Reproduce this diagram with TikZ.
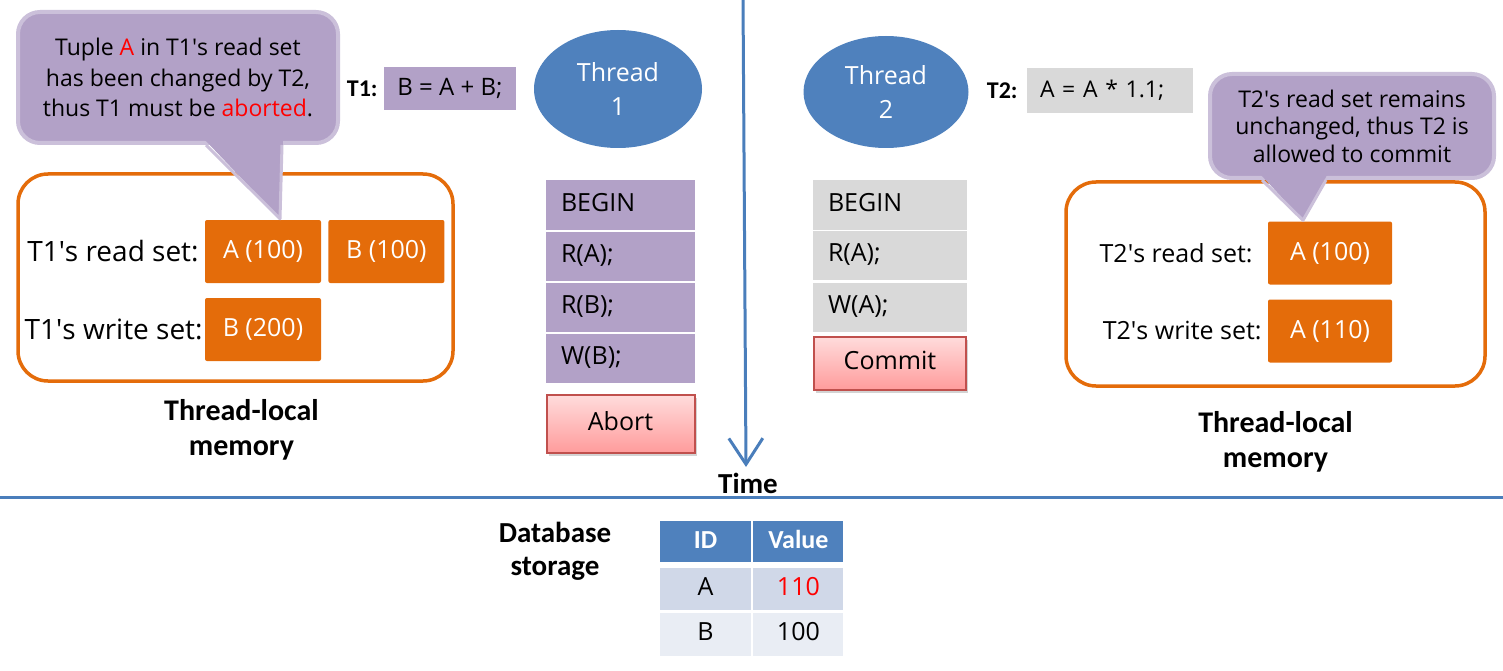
\documentclass[tikz,border=0pt]{standalone}
\usepackage{fontspec}
\setmainfont{Open Sans}
\newfontfamily\labelfont{Carlito}
\usetikzlibrary{positioning,shapes.geometric,arrows.meta,shadows}
\definecolor{lilac}{HTML}{B2A1C7}
\definecolor{lilacedge}{HTML}{CBC0DA}
\definecolor{memorange}{HTML}{E46C0A}
\definecolor{threadblue}{HTML}{4F81BD}
\definecolor{linkblue}{HTML}{4A7EBB}
\definecolor{opgray}{HTML}{D9D9D9}
\definecolor{rowa}{HTML}{D0D8E8}
\definecolor{rowb}{HTML}{E9EDF4}
\definecolor{alertred}{HTML}{C0504D}
\definecolor{pinktop}{HTML}{FFDCDC}
\definecolor{pinkbottom}{HTML}{FF9C9C}
\tikzset{
    note-box/.style = {fill=lilac, draw=lilacedge, line width=4pt, rounded corners=22pt, align=center, inner sep=0pt},
    note-edge/.style = {draw=lilacedge, line width=3pt, line join=round},
    thread-node/.style = {ellipse, fill=threadblue, text=white, inner sep=0pt, align=center, font=\fontsize{25}{34}\selectfont},
    op-box/.style = {inner sep=0pt, font=\fontsize{24}{28}\selectfont},
    tag/.style = {inner sep=0pt, font=\labelfont\bfseries\fontsize{24}{28}\selectfont},
    step-box/.style = {inner xsep=15pt, inner ysep=0pt, outer sep=0pt, minimum height=49pt, align=left, text height=18pt, text depth=5pt, font=\fontsize{25}{30}\selectfont},
    t1-step/.style = {step-box, fill=lilac, text width=119pt},
    t2-step/.style = {step-box, fill=opgray, text width=124pt},
    end-box/.style = {draw=alertred, line width=2pt, top color=pinktop, bottom color=pinkbottom, inner sep=0pt, text height=18pt, text depth=5pt, font=\fontsize{25}{30}\selectfont, drop shadow={shadow xshift=2pt, shadow yshift=-3pt, opacity=0.35}},
    memory-box/.style = {draw=memorange, line width=3.5pt, rounded corners=30pt, inner sep=0pt},
    set-box/.style = {fill=memorange, text=white, minimum width=116pt, minimum height=63pt, rounded corners=2pt, inner sep=0pt, font=\fontsize{25}{30}\selectfont},
    set-label/.style = {inner sep=0pt, font=\fontsize{25}{30}\selectfont},
    bold-label/.style = {inner sep=0pt, align=center, font=\labelfont\bfseries\fontsize{30}{35}\selectfont},
    time-arrow/.style = {draw=linkblue, line width=3pt, -{Straight Barb[length=26pt,width=34pt,line width=3pt]}},
    split-line/.style = {draw=linkblue, line width=3pt},
    head-cell/.style = {fill=threadblue, text=white, minimum height=41pt, inner sep=0pt, text height=17pt, text depth=4pt, font=\labelfont\bfseries\fontsize{26}{30}\selectfont},
    cell/.style = {minimum height=42pt, inner sep=0pt, text height=18pt, text depth=5pt, font=\fontsize{25}{30}\selectfont},
}

\begin{document}
\begin{tikzpicture}[x=1pt,y=-1pt]
\useasboundingbox (0,0) rectangle (1503,671);

\node[memory-box, minimum width=435pt, minimum height=207pt] (mem1) at (235.5,277.5) {};
\node[memory-box, minimum width=419pt, minimum height=204pt] (mem2) at (1275.5,284) {};

\node[set-box] (t1-read-a) at (263,251.5) {A (100)};
\node[set-box, right=7pt of t1-read-a] (t1-read-b) {B (100)};
\node[set-box] (t1-write-b) at (263,329.5) {B (200)};
\node[set-label, font=\fontsize{28}{32}\selectfont, left=6pt of t1-read-a] (t1-read-label) {T1\textquotesingle s read set:};
\node[set-label, font=\fontsize{28}{32}\selectfont, left=2pt of t1-write-b] (t1-write-label) {T1\textquotesingle s write set:};
\node[set-box, minimum width=124pt] (t2-read-a) at (1330,253) {A (100)};
\node[set-box, minimum width=124pt] (t2-write-a) at (1330,331) {A (110)};
\node[set-label, left=15pt of t2-read-a] (t2-read-label) {T2\textquotesingle s read set:};
\node[set-label, left=6pt of t2-write-a] (t2-write-label) {T2\textquotesingle s write set:};

\node[bold-label, below=16pt of mem1, xshift=6pt] (mem1-title) {Thread-local\\memory};
\node[bold-label, below=23pt of mem2] (mem2-title) {Thread-local\\memory};

\node[note-box, minimum width=320pt, minimum height=131pt, font=\fontsize{23}{30.5}\selectfont] (note1) at (178,77.5)
    {Tuple \textcolor{red}{A} in T1\textquotesingle s read set\\has been changed by T2,\\thus T1 must be \textcolor{red}{aborted}.};
\coordinate (note1-tip) at ([xshift=17pt,yshift=1pt]t1-read-a.north);
\fill[lilac] ([xshift=27pt,yshift=5pt]note1.south) -- (note1-tip) -- ([xshift=105pt,yshift=5pt]note1.south) -- cycle;
\draw[note-edge] ([xshift=28pt]note1.south) -- (note1-tip) -- ([xshift=104pt]note1.south);

\node[note-box, minimum width=284pt, minimum height=104pt, font=\fontsize{23}{27.5}\selectfont] (note2) at (1352,126)
    {T2\textquotesingle s read set remains\\unchanged, thus T2 is\\allowed to commit};
\coordinate (note2-tip) at ([xshift=-27pt,yshift=1pt]t2-read-a.north);
\fill[lilac] ([xshift=-91pt,yshift=5pt]note2.south) -- (note2-tip) -- ([xshift=-25pt,yshift=5pt]note2.south) -- cycle;
\draw[note-edge] ([xshift=-90pt]note2.south) -- (note2-tip) -- ([xshift=-26pt]note2.south);

\node[op-box, fill=lilac, minimum width=132pt, minimum height=43pt] (op1) at (450,88.5) {B = A + B;};
\node[tag, left=6pt of op1] (t1-tag) {T1:};
\node[op-box, fill=opgray, text width=140pt, inner xsep=13pt, align=left, minimum height=45pt, font=\fontsize{23}{27}\selectfont] (op2) at (1110,90.5) {A = A * 1.1;};
\node[tag, left=9pt of op2] (t2-tag) {T2:};

\node[thread-node, minimum width=168pt, minimum height=118pt] (thread1) at (618,89) {Thread\\1};
\node[thread-node, minimum width=165pt, minimum height=112pt] (thread2) at (886,92) {Thread\\2};

\node[t1-step] (t1-begin) at (620.5,205) {BEGIN};
\node[t1-step, below=2pt of t1-begin] (t1-ra) {R(A);};
\node[t1-step, below=2pt of t1-ra] (t1-rb) {R(B);};
\node[t1-step, below=2pt of t1-rb] (t1-wb) {W(B);};
\node[end-box, minimum width=148pt, minimum height=58pt, below=11pt of t1-wb] (t1-abort) {Abort};

\node[t2-step] (t2-begin) at (890,205) {BEGIN};
\node[t2-step, below=1pt of t2-begin] (t2-ra) {R(A);};
\node[t2-step, below=3pt of t2-ra] (t2-wa) {W(A);};
\node[end-box, minimum width=152pt, minimum height=53pt, below=4pt of t2-wa] (t2-commit) {Commit};

\coordinate (time-top) at (743,-2);
\coordinate (time-tip) at (746,467);
\draw[time-arrow] (time-top) -- (time-tip);
\node[bold-label, font=\labelfont\bfseries\fontsize{29}{33}\selectfont] (time-label) at (748,483) {Time};
\coordinate (split-left) at (0,497);
\coordinate (split-right) at (1503,497);
\draw[split-line] (split-left) -- (split-right);

\node[bold-label, font=\labelfont\bfseries\fontsize{29}{33}\selectfont] (db-label) at (555,551) {Database\\storage};
\node[head-cell, minimum width=91pt] (id-head) at (705.5,541.5) {ID};
\node[head-cell, minimum width=90pt, right=2pt of id-head] (value-head) {Value};
\node[cell, fill=rowa, minimum width=91pt, below=6pt of id-head] (id-a) {A};
\node[cell, fill=rowa, minimum width=90pt, right=2pt of id-a] (value-a) {\textcolor{red}{110}};
\node[cell, fill=rowb, minimum width=91pt, minimum height=43pt, below=2pt of id-a] (id-b) {B};
\node[cell, fill=rowb, minimum width=90pt, minimum height=43pt, right=2pt of id-b] (value-b) {100};
\end{tikzpicture}
\end{document}
